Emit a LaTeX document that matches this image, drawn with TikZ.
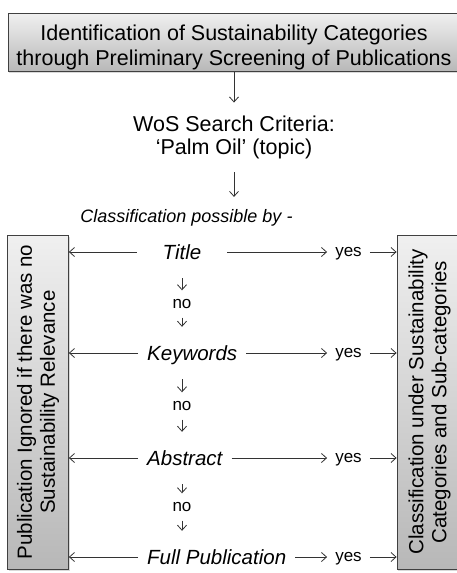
\documentclass[tikz,border=0pt]{standalone}
\usepackage{fontspec}
\setmainfont{Liberation Sans}
\usetikzlibrary{arrows.meta,shadows}

\begin{document}
\begin{tikzpicture}[->,>={Straight Barb[length=5pt,width=9pt]},x=1pt,y=-1pt,
                    every edge/.style={draw=black!80,line width=0.8pt}]
  \tikzstyle{box}=[draw=black!75,line width=0.8pt,top color=black!6,
                   bottom color=black!28,inner sep=0pt,align=center,
                   drop shadow={shadow xshift=1pt,shadow yshift=-1.5pt,opacity=.3}]
  \tikzstyle{big}=[font=\fontsize{21.5}{25}\selectfont]
  \tikzstyle{turned}=[box,rotate=90,font=\fontsize{20.5}{23}\selectfont,
                      minimum width=334pt]
  \tikzstyle{source}=[font=\fontsize{20.5}{24}\selectfont\itshape,text height=15pt,
                      text depth=0pt,inner xsep=9pt,inner ysep=18.5pt]
  \tikzstyle{answer}=[font=\fontsize{17}{20}\selectfont,text height=9pt,
                      text depth=0pt,inner sep=0pt]

  \useasboundingbox (0,0) rectangle (457,573);

  \node[box,big,minimum width=452pt,inner ysep=2pt] (screen) at (234,42.4)
       {\rule{0pt}{24.7pt}Identification of Sustainability Categories\\
        through Preliminary Screening of Publications};
  \node[big,align=center,inner ysep=13.5pt,font=\fontsize{21.5}{22.5}\selectfont]
       (wos) at (234,137.5) {WoS Search Criteria:\\‘Palm Oil’ (topic)};
  \node[font=\fontsize{18}{22}\selectfont\itshape,inner ysep=12.5pt]
       (possible) at (186.5,218) {Classification possible by -};

  \node[source,minimum width=90pt] (title)    at (182,252) {Title};
  \node[source,anchor=west]        (keywords) at (138,353) {Keywords};
  \node[source,anchor=west]        (abstract) at (138,458) {Abstract};
  \node[source,anchor=west]        (full)     at (138,557) {Full Publication};

  \node[answer,inner ysep=9pt] (no1) at (182,304) {no};
  \node[answer,inner ysep=9pt] (no2) at (182,406) {no};
  \node[answer,inner ysep=9pt] (no3) at (182,507) {no};

  \node[answer,inner xsep=8pt] (yes1) at (348.5,252) {yes};
  \node[answer,inner xsep=8pt] (yes2) at (348.5,353) {yes};
  \node[answer,inner xsep=8pt] (yes3) at (348.5,458) {yes};
  \node[answer,inner xsep=8pt] (yes4) at (348.5,557) {yes};

  % side boxes are turned, so .south is the right side of the left one
  \node[turned,minimum height=61pt] (ignored) at (38,402)
       {Publication Ignored if there was no\\Sustainability Relevance};
  \node[turned,minimum height=65pt] (classified) at (429.5,402)
       {Classification under Sustainability\\Categories and Sub-categories};

  \path (screen) edge (wos)
        (wos)    edge (wos |- possible.north)

        (title)              edge (no1)
        (no1)                edge (no1 |- keywords.north)
        (keywords.south -| no1) edge (no2)
        (no2)                edge (no2 |- abstract.north)
        (abstract.south -| no2) edge (no3)
        (no3)                edge (no3 |- full.north)

        (title)    edge (title -| ignored.south)
        (keywords) edge (keywords -| ignored.south)
        (abstract) edge (abstract -| ignored.south)
        (full)     edge (full -| ignored.south)

        (title)    edge (yes1)
        (keywords) edge (yes2)
        (abstract) edge (yes3)
        (full)     edge (yes4)
        (yes1) edge (yes1 -| classified.north)
        (yes2) edge (yes2 -| classified.north)
        (yes3) edge (yes3 -| classified.north)
        (yes4) edge (yes4 -| classified.north);
\end{tikzpicture}
\end{document}
